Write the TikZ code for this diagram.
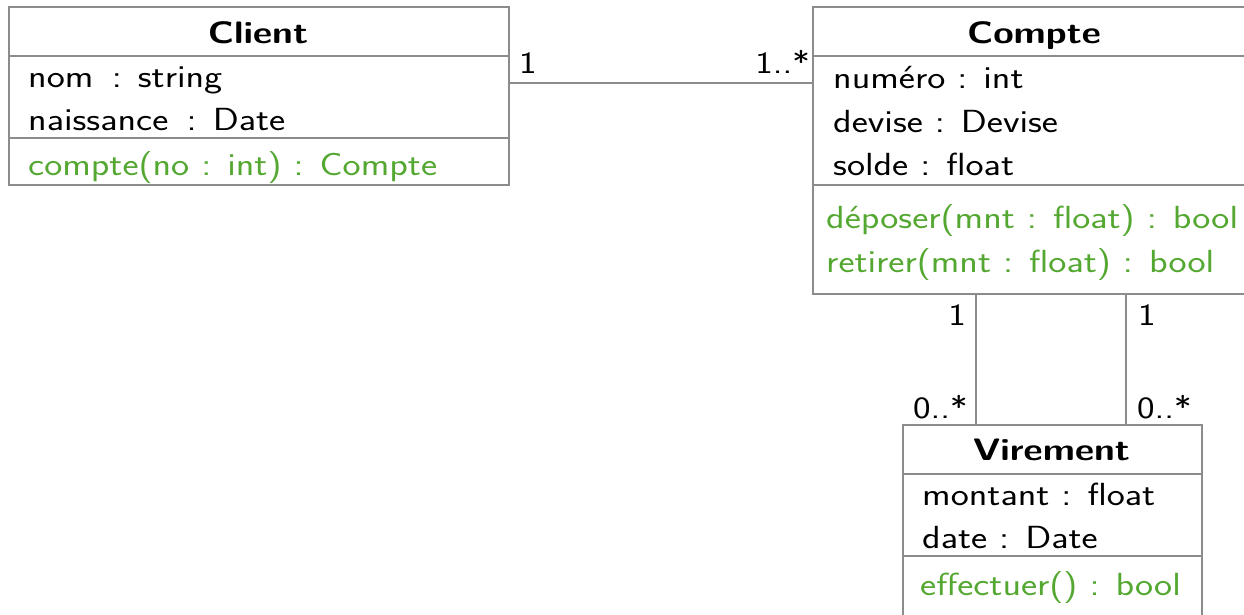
\documentclass[tikz,border=0pt]{standalone}
\usepackage{graphicx}
\definecolor{opgreen}{RGB}{84,168,50}
\definecolor{umlline}{RGB}{140,140,140}
\newcommand\wide[1]{\scalebox{1.2}[1]{#1}}
\tikzset{
  classbox/.style={draw=umlline, line width=1.6pt, rectangle, inner sep=0pt, anchor=north west},
  sepline/.style={draw=umlline, line width=1.6pt},
  assoc/.style={draw=umlline, line width=1.6pt},
  member/.style={anchor=base west, inner sep=0pt, font=\fontsize{32}{38}\selectfont\sffamily},
  method/.style={member, text=opgreen},
  title/.style={anchor=base, inner sep=0pt, font=\fontsize{31}{36}\selectfont\sffamily\bfseries},
  mult/.style={inner sep=0pt, font=\fontsize{31}{36}\selectfont\sffamily},
}
\begin{document}
\begin{tikzpicture}[x=1pt, y=-1pt]
\useasboundingbox (0,0) rectangle (1244,614);

% Client class
\node[classbox, minimum width=500pt, minimum height=178pt] (client) at (8,6) {};
\draw[sepline] (8,56) -- (508,56);
\draw[sepline] (8,138) -- (508,138);
\node[title] (clientT) at (258,43) {\wide{Client}};
\node[member] (clientA1) at (28,87) {\wide{nom\ \,: string}};
\node[member] (clientA2) at (28,130) {\wide{naissance\ \,: Date}};
\node[method] (clientM1) at (28,175) {\wide{compte(no : int) : Compte}};

% Compte class
\node[classbox, minimum width=444pt, minimum height=287pt] (compte) at (812,6) {};
\draw[sepline] (812,56) -- (1256,56);
\draw[sepline] (812,185) -- (1256,185);
\node[title] (compteT) at (1034,43) {\wide{Compte}};
\node[member] (compteA1) at (833,88) {\wide{numéro : int}};
\node[member] (compteA2) at (833,132) {\wide{devise : Devise}};
\node[member] (compteA3) at (833,175) {\wide{solde : float}};
\node[method] (compteM1) at (826,228) {\wide{déposer(mnt : float) : bool}};
\node[method] (compteM2) at (826,272) {\wide{retirer(mnt : float) : bool}};

% Virement class
\node[classbox, minimum width=299pt, minimum height=200pt] (virement) at (902,424) {};
\draw[sepline] (902,474) -- (1201,474);
\draw[sepline] (902,556) -- (1201,556);
\node[title] (virementT) at (1051.5,460) {\wide{Virement}};
\node[member] (virementA1) at (922,505) {\wide{montant : float}};
\node[member] (virementA2) at (922,548) {\wide{date : Date}};
\node[method] (virementM1) at (920,595) {\wide{effectuer() : bool}};

% Associations
\coordinate (cc) at ([yshift=-77pt]client.north east);
\draw[assoc] (cc) -- (cc -| compte.west);
\coordinate (vl) at ([xshift=74pt]virement.north west);
\coordinate (vr) at ([xshift=224pt]virement.north west);
\draw[assoc] (vl) -- (vl |- compte.south);
\draw[assoc] (vr) -- (vr |- compte.south);

% Multiplicities
\node[mult, anchor=base west] (m1) at (519,73) {\wide{1}};
\node[mult, anchor=base east] (m2) at (810,73) {\wide{1..*}};
\node[mult, anchor=base east] (m3) at (966,325) {\wide{1}};
\node[mult, anchor=base west] (m4) at (1138,325) {\wide{1}};
\node[mult, anchor=base west] (m5) at (913,418) {\wide{0..*}};
\node[mult, anchor=base west] (m6) at (1137,418) {\wide{0..*}};
\end{tikzpicture}
\end{document}
